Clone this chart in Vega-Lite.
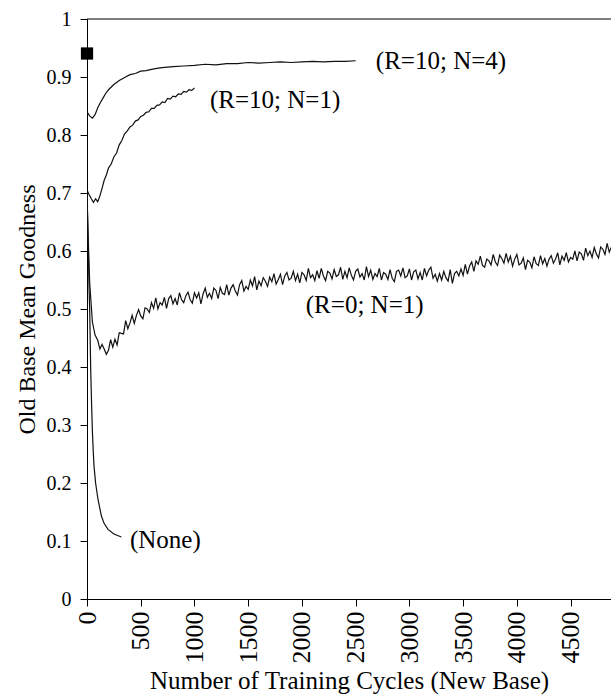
{
  "$schema": "https://vega.github.io/schema/vega-lite/v6.json",
  "width": 524,
  "height": 580,
  "autosize": "none",
  "padding": {"left": 87, "top": 19, "right": 0, "bottom": 96},
  "background": "white",
  "config": {
    "view": {"stroke": null},
    "font": "Liberation Serif",
    "axis": {"labelFont": "Liberation Serif", "titleFont": "Liberation Serif", "labelColor": "#000", "titleColor": "#000", "domainColor": "#000", "tickColor": "#000", "grid": false, "titleFontWeight": "normal"}
  },
  "datasets": {
    "curves": [
      {"s": "none", "x": 0, "y": 0.70}, {"s": "none", "x": 10, "y": 0.62}, {"s": "none", "x": 20, "y": 0.53}, {"s": "none", "x": 25, "y": 0.50}, {"s": "none", "x": 34, "y": 0.40}, {"s": "none", "x": 42, "y": 0.34}, {"s": "none", "x": 50, "y": 0.29}, {"s": "none", "x": 58, "y": 0.255}, {"s": "none", "x": 65, "y": 0.23}, {"s": "none", "x": 80, "y": 0.20}, {"s": "none", "x": 102, "y": 0.172}, {"s": "none", "x": 134, "y": 0.143}, {"s": "none", "x": 160, "y": 0.13}, {"s": "none", "x": 196, "y": 0.12}, {"s": "none", "x": 250, "y": 0.112}, {"s": "none", "x": 320, "y": 0.107},

      {"s": "r10n4", "x": 0, "y": 0.840}, {"s": "r10n4", "x": 25, "y": 0.833}, {"s": "r10n4", "x": 50, "y": 0.829}, {"s": "r10n4", "x": 75, "y": 0.835}, {"s": "r10n4", "x": 100, "y": 0.847}, {"s": "r10n4", "x": 125, "y": 0.856}, {"s": "r10n4", "x": 150, "y": 0.864}, {"s": "r10n4", "x": 175, "y": 0.872}, {"s": "r10n4", "x": 200, "y": 0.878}, {"s": "r10n4", "x": 250, "y": 0.887}, {"s": "r10n4", "x": 300, "y": 0.894}, {"s": "r10n4", "x": 350, "y": 0.899}, {"s": "r10n4", "x": 400, "y": 0.904}, {"s": "r10n4", "x": 450, "y": 0.906}, {"s": "r10n4", "x": 500, "y": 0.910}, {"s": "r10n4", "x": 550, "y": 0.911}, {"s": "r10n4", "x": 600, "y": 0.913}, {"s": "r10n4", "x": 650, "y": 0.915}, {"s": "r10n4", "x": 700, "y": 0.916}, {"s": "r10n4", "x": 800, "y": 0.918}, {"s": "r10n4", "x": 900, "y": 0.919}, {"s": "r10n4", "x": 1000, "y": 0.920}, {"s": "r10n4", "x": 1100, "y": 0.922}, {"s": "r10n4", "x": 1200, "y": 0.921}, {"s": "r10n4", "x": 1300, "y": 0.923}, {"s": "r10n4", "x": 1400, "y": 0.923}, {"s": "r10n4", "x": 1500, "y": 0.925}, {"s": "r10n4", "x": 1600, "y": 0.924}, {"s": "r10n4", "x": 1700, "y": 0.925}, {"s": "r10n4", "x": 1800, "y": 0.926}, {"s": "r10n4", "x": 1900, "y": 0.925}, {"s": "r10n4", "x": 2000, "y": 0.926}, {"s": "r10n4", "x": 2100, "y": 0.927}, {"s": "r10n4", "x": 2200, "y": 0.926}, {"s": "r10n4", "x": 2300, "y": 0.927}, {"s": "r10n4", "x": 2400, "y": 0.927}, {"s": "r10n4", "x": 2500, "y": 0.928},

      {"s": "r10n1", "x": 0, "y": 0.705}, {"s": "r10n1", "x": 20, "y": 0.697}, {"s": "r10n1", "x": 40, "y": 0.690}, {"s": "r10n1", "x": 60, "y": 0.684}, {"s": "r10n1", "x": 80, "y": 0.690}, {"s": "r10n1", "x": 100, "y": 0.685}, {"s": "r10n1", "x": 120, "y": 0.695}, {"s": "r10n1", "x": 140, "y": 0.708}, {"s": "r10n1", "x": 160, "y": 0.722}, {"s": "r10n1", "x": 180, "y": 0.731}, {"s": "r10n1", "x": 200, "y": 0.743}, {"s": "r10n1", "x": 225, "y": 0.750}, {"s": "r10n1", "x": 250, "y": 0.762}, {"s": "r10n1", "x": 275, "y": 0.769}, {"s": "r10n1", "x": 300, "y": 0.783}, {"s": "r10n1", "x": 325, "y": 0.791}, {"s": "r10n1", "x": 350, "y": 0.802}, {"s": "r10n1", "x": 375, "y": 0.807}, {"s": "r10n1", "x": 400, "y": 0.814}, {"s": "r10n1", "x": 425, "y": 0.817}, {"s": "r10n1", "x": 450, "y": 0.824}, {"s": "r10n1", "x": 475, "y": 0.826}, {"s": "r10n1", "x": 500, "y": 0.832}, {"s": "r10n1", "x": 525, "y": 0.834}, {"s": "r10n1", "x": 550, "y": 0.839}, {"s": "r10n1", "x": 575, "y": 0.840}, {"s": "r10n1", "x": 600, "y": 0.846}, {"s": "r10n1", "x": 625, "y": 0.846}, {"s": "r10n1", "x": 650, "y": 0.851}, {"s": "r10n1", "x": 675, "y": 0.852}, {"s": "r10n1", "x": 700, "y": 0.857}, {"s": "r10n1", "x": 725, "y": 0.856}, {"s": "r10n1", "x": 750, "y": 0.863}, {"s": "r10n1", "x": 775, "y": 0.862}, {"s": "r10n1", "x": 800, "y": 0.867}, {"s": "r10n1", "x": 825, "y": 0.866}, {"s": "r10n1", "x": 850, "y": 0.871}, {"s": "r10n1", "x": 875, "y": 0.870}, {"s": "r10n1", "x": 900, "y": 0.875}, {"s": "r10n1", "x": 925, "y": 0.874}, {"s": "r10n1", "x": 950, "y": 0.878}, {"s": "r10n1", "x": 975, "y": 0.877}, {"s": "r10n1", "x": 1000, "y": 0.881},

      {"s": "r0n1", "x": 0, "y": 0.700}, {"s": "r0n1", "x": 10, "y": 0.630}, {"s": "r0n1", "x": 25, "y": 0.545}, {"s": "r0n1", "x": 50, "y": 0.478}, {"s": "r0n1", "x": 75, "y": 0.455},
      {"s": "r0n1", "x": 100, "y": 0.446}, {"s": "r0n1", "x": 120, "y": 0.431}, {"s": "r0n1", "x": 140, "y": 0.439}, {"s": "r0n1", "x": 160, "y": 0.431}, {"s": "r0n1", "x": 180, "y": 0.422}, {"s": "r0n1", "x": 200, "y": 0.429}, {"s": "r0n1", "x": 220, "y": 0.447}, {"s": "r0n1", "x": 240, "y": 0.434}, {"s": "r0n1", "x": 260, "y": 0.448}, {"s": "r0n1", "x": 280, "y": 0.438}, {"s": "r0n1", "x": 300, "y": 0.459}, {"s": "r0n1", "x": 320, "y": 0.458}, {"s": "r0n1", "x": 340, "y": 0.457}, {"s": "r0n1", "x": 360, "y": 0.480}, {"s": "r0n1", "x": 380, "y": 0.466}, {"s": "r0n1", "x": 400, "y": 0.476}, {"s": "r0n1", "x": 420, "y": 0.489}, {"s": "r0n1", "x": 440, "y": 0.475}, {"s": "r0n1", "x": 460, "y": 0.489}, {"s": "r0n1", "x": 480, "y": 0.499}, {"s": "r0n1", "x": 500, "y": 0.488},
      {"s": "r0n1", "x": 520, "y": 0.483}, {"s": "r0n1", "x": 540, "y": 0.502}, {"s": "r0n1", "x": 560, "y": 0.500}, {"s": "r0n1", "x": 580, "y": 0.494}, {"s": "r0n1", "x": 600, "y": 0.511}, {"s": "r0n1", "x": 620, "y": 0.501}, {"s": "r0n1", "x": 640, "y": 0.519}, {"s": "r0n1", "x": 660, "y": 0.500}, {"s": "r0n1", "x": 680, "y": 0.511}, {"s": "r0n1", "x": 700, "y": 0.507}, {"s": "r0n1", "x": 720, "y": 0.520}, {"s": "r0n1", "x": 740, "y": 0.501}, {"s": "r0n1", "x": 760, "y": 0.518}, {"s": "r0n1", "x": 780, "y": 0.523}, {"s": "r0n1", "x": 800, "y": 0.509}, {"s": "r0n1", "x": 820, "y": 0.518}, {"s": "r0n1", "x": 840, "y": 0.507}, {"s": "r0n1", "x": 860, "y": 0.528}, {"s": "r0n1", "x": 880, "y": 0.516}, {"s": "r0n1", "x": 900, "y": 0.511}, {"s": "r0n1", "x": 920, "y": 0.523}, {"s": "r0n1", "x": 940, "y": 0.529}, {"s": "r0n1", "x": 960, "y": 0.516}, {"s": "r0n1", "x": 980, "y": 0.510}, {"s": "r0n1", "x": 1000, "y": 0.528},
      {"s": "r0n1", "x": 1020, "y": 0.519}, {"s": "r0n1", "x": 1040, "y": 0.528}, {"s": "r0n1", "x": 1060, "y": 0.509}, {"s": "r0n1", "x": 1080, "y": 0.526}, {"s": "r0n1", "x": 1100, "y": 0.536}, {"s": "r0n1", "x": 1120, "y": 0.520}, {"s": "r0n1", "x": 1140, "y": 0.527}, {"s": "r0n1", "x": 1160, "y": 0.518}, {"s": "r0n1", "x": 1180, "y": 0.536}, {"s": "r0n1", "x": 1200, "y": 0.532}, {"s": "r0n1", "x": 1220, "y": 0.518}, {"s": "r0n1", "x": 1240, "y": 0.537}, {"s": "r0n1", "x": 1260, "y": 0.527}, {"s": "r0n1", "x": 1280, "y": 0.525}, {"s": "r0n1", "x": 1300, "y": 0.542}, {"s": "r0n1", "x": 1320, "y": 0.524}, {"s": "r0n1", "x": 1340, "y": 0.536}, {"s": "r0n1", "x": 1360, "y": 0.542}, {"s": "r0n1", "x": 1380, "y": 0.531}, {"s": "r0n1", "x": 1400, "y": 0.524}, {"s": "r0n1", "x": 1420, "y": 0.542}, {"s": "r0n1", "x": 1440, "y": 0.549}, {"s": "r0n1", "x": 1460, "y": 0.531}, {"s": "r0n1", "x": 1480, "y": 0.539}, {"s": "r0n1", "x": 1500, "y": 0.534},
      {"s": "r0n1", "x": 1520, "y": 0.550}, {"s": "r0n1", "x": 1540, "y": 0.540}, {"s": "r0n1", "x": 1560, "y": 0.556}, {"s": "r0n1", "x": 1580, "y": 0.533}, {"s": "r0n1", "x": 1600, "y": 0.548}, {"s": "r0n1", "x": 1620, "y": 0.540}, {"s": "r0n1", "x": 1640, "y": 0.554}, {"s": "r0n1", "x": 1660, "y": 0.548}, {"s": "r0n1", "x": 1680, "y": 0.539}, {"s": "r0n1", "x": 1700, "y": 0.555}, {"s": "r0n1", "x": 1720, "y": 0.547}, {"s": "r0n1", "x": 1740, "y": 0.561}, {"s": "r0n1", "x": 1760, "y": 0.543}, {"s": "r0n1", "x": 1780, "y": 0.551}, {"s": "r0n1", "x": 1800, "y": 0.560}, {"s": "r0n1", "x": 1820, "y": 0.542}, {"s": "r0n1", "x": 1840, "y": 0.557}, {"s": "r0n1", "x": 1860, "y": 0.563}, {"s": "r0n1", "x": 1880, "y": 0.550}, {"s": "r0n1", "x": 1900, "y": 0.553}, {"s": "r0n1", "x": 1920, "y": 0.565}, {"s": "r0n1", "x": 1940, "y": 0.549}, {"s": "r0n1", "x": 1960, "y": 0.560}, {"s": "r0n1", "x": 1980, "y": 0.545}, {"s": "r0n1", "x": 2000, "y": 0.563},
      {"s": "r0n1", "x": 2020, "y": 0.559}, {"s": "r0n1", "x": 2040, "y": 0.549}, {"s": "r0n1", "x": 2060, "y": 0.570}, {"s": "r0n1", "x": 2080, "y": 0.554}, {"s": "r0n1", "x": 2100, "y": 0.559}, {"s": "r0n1", "x": 2120, "y": 0.549}, {"s": "r0n1", "x": 2140, "y": 0.566}, {"s": "r0n1", "x": 2160, "y": 0.553}, {"s": "r0n1", "x": 2180, "y": 0.570}, {"s": "r0n1", "x": 2200, "y": 0.557}, {"s": "r0n1", "x": 2220, "y": 0.549}, {"s": "r0n1", "x": 2240, "y": 0.565}, {"s": "r0n1", "x": 2260, "y": 0.562}, {"s": "r0n1", "x": 2280, "y": 0.552}, {"s": "r0n1", "x": 2300, "y": 0.568}, {"s": "r0n1", "x": 2320, "y": 0.556}, {"s": "r0n1", "x": 2340, "y": 0.559}, {"s": "r0n1", "x": 2360, "y": 0.572}, {"s": "r0n1", "x": 2380, "y": 0.551}, {"s": "r0n1", "x": 2400, "y": 0.565}, {"s": "r0n1", "x": 2420, "y": 0.554}, {"s": "r0n1", "x": 2440, "y": 0.571}, {"s": "r0n1", "x": 2460, "y": 0.558}, {"s": "r0n1", "x": 2480, "y": 0.550}, {"s": "r0n1", "x": 2500, "y": 0.565},
      {"s": "r0n1", "x": 2520, "y": 0.569}, {"s": "r0n1", "x": 2540, "y": 0.555}, {"s": "r0n1", "x": 2560, "y": 0.561}, {"s": "r0n1", "x": 2580, "y": 0.550}, {"s": "r0n1", "x": 2600, "y": 0.573}, {"s": "r0n1", "x": 2620, "y": 0.556}, {"s": "r0n1", "x": 2640, "y": 0.567}, {"s": "r0n1", "x": 2660, "y": 0.551}, {"s": "r0n1", "x": 2680, "y": 0.561}, {"s": "r0n1", "x": 2700, "y": 0.556}, {"s": "r0n1", "x": 2720, "y": 0.570}, {"s": "r0n1", "x": 2740, "y": 0.550}, {"s": "r0n1", "x": 2760, "y": 0.563}, {"s": "r0n1", "x": 2780, "y": 0.560}, {"s": "r0n1", "x": 2800, "y": 0.551}, {"s": "r0n1", "x": 2820, "y": 0.568}, {"s": "r0n1", "x": 2840, "y": 0.553}, {"s": "r0n1", "x": 2860, "y": 0.547}, {"s": "r0n1", "x": 2880, "y": 0.565}, {"s": "r0n1", "x": 2900, "y": 0.567}, {"s": "r0n1", "x": 2920, "y": 0.557}, {"s": "r0n1", "x": 2940, "y": 0.571}, {"s": "r0n1", "x": 2960, "y": 0.554}, {"s": "r0n1", "x": 2980, "y": 0.557}, {"s": "r0n1", "x": 3000, "y": 0.569},
      {"s": "r0n1", "x": 3020, "y": 0.550}, {"s": "r0n1", "x": 3040, "y": 0.564}, {"s": "r0n1", "x": 3060, "y": 0.567}, {"s": "r0n1", "x": 3080, "y": 0.552}, {"s": "r0n1", "x": 3100, "y": 0.563}, {"s": "r0n1", "x": 3120, "y": 0.550}, {"s": "r0n1", "x": 3140, "y": 0.570}, {"s": "r0n1", "x": 3160, "y": 0.557}, {"s": "r0n1", "x": 3180, "y": 0.567}, {"s": "r0n1", "x": 3200, "y": 0.572}, {"s": "r0n1", "x": 3220, "y": 0.553}, {"s": "r0n1", "x": 3240, "y": 0.560}, {"s": "r0n1", "x": 3260, "y": 0.548}, {"s": "r0n1", "x": 3280, "y": 0.561}, {"s": "r0n1", "x": 3300, "y": 0.550}, {"s": "r0n1", "x": 3320, "y": 0.565}, {"s": "r0n1", "x": 3340, "y": 0.554}, {"s": "r0n1", "x": 3360, "y": 0.548}, {"s": "r0n1", "x": 3380, "y": 0.568}, {"s": "r0n1", "x": 3400, "y": 0.544}, {"s": "r0n1", "x": 3420, "y": 0.561}, {"s": "r0n1", "x": 3440, "y": 0.565}, {"s": "r0n1", "x": 3460, "y": 0.557}, {"s": "r0n1", "x": 3480, "y": 0.569}, {"s": "r0n1", "x": 3500, "y": 0.558},
      {"s": "r0n1", "x": 3520, "y": 0.577}, {"s": "r0n1", "x": 3540, "y": 0.560}, {"s": "r0n1", "x": 3560, "y": 0.574}, {"s": "r0n1", "x": 3580, "y": 0.581}, {"s": "r0n1", "x": 3600, "y": 0.565}, {"s": "r0n1", "x": 3620, "y": 0.583}, {"s": "r0n1", "x": 3640, "y": 0.577}, {"s": "r0n1", "x": 3660, "y": 0.591}, {"s": "r0n1", "x": 3680, "y": 0.575}, {"s": "r0n1", "x": 3700, "y": 0.572}, {"s": "r0n1", "x": 3720, "y": 0.586}, {"s": "r0n1", "x": 3740, "y": 0.583}, {"s": "r0n1", "x": 3760, "y": 0.576}, {"s": "r0n1", "x": 3780, "y": 0.594}, {"s": "r0n1", "x": 3800, "y": 0.581}, {"s": "r0n1", "x": 3820, "y": 0.575}, {"s": "r0n1", "x": 3840, "y": 0.593}, {"s": "r0n1", "x": 3860, "y": 0.587}, {"s": "r0n1", "x": 3880, "y": 0.579}, {"s": "r0n1", "x": 3900, "y": 0.596}, {"s": "r0n1", "x": 3920, "y": 0.581}, {"s": "r0n1", "x": 3940, "y": 0.591}, {"s": "r0n1", "x": 3960, "y": 0.574}, {"s": "r0n1", "x": 3980, "y": 0.586}, {"s": "r0n1", "x": 4000, "y": 0.594},
      {"s": "r0n1", "x": 4020, "y": 0.576}, {"s": "r0n1", "x": 4040, "y": 0.579}, {"s": "r0n1", "x": 4060, "y": 0.588}, {"s": "r0n1", "x": 4080, "y": 0.568}, {"s": "r0n1", "x": 4100, "y": 0.584}, {"s": "r0n1", "x": 4120, "y": 0.581}, {"s": "r0n1", "x": 4140, "y": 0.571}, {"s": "r0n1", "x": 4160, "y": 0.590}, {"s": "r0n1", "x": 4180, "y": 0.578}, {"s": "r0n1", "x": 4200, "y": 0.575}, {"s": "r0n1", "x": 4220, "y": 0.592}, {"s": "r0n1", "x": 4240, "y": 0.578}, {"s": "r0n1", "x": 4260, "y": 0.587}, {"s": "r0n1", "x": 4280, "y": 0.574}, {"s": "r0n1", "x": 4300, "y": 0.586}, {"s": "r0n1", "x": 4320, "y": 0.592}, {"s": "r0n1", "x": 4340, "y": 0.579}, {"s": "r0n1", "x": 4360, "y": 0.586}, {"s": "r0n1", "x": 4380, "y": 0.597}, {"s": "r0n1", "x": 4400, "y": 0.576}, {"s": "r0n1", "x": 4420, "y": 0.591}, {"s": "r0n1", "x": 4440, "y": 0.584}, {"s": "r0n1", "x": 4460, "y": 0.597}, {"s": "r0n1", "x": 4480, "y": 0.581}, {"s": "r0n1", "x": 4500, "y": 0.589},
      {"s": "r0n1", "x": 4520, "y": 0.586}, {"s": "r0n1", "x": 4540, "y": 0.600}, {"s": "r0n1", "x": 4560, "y": 0.583}, {"s": "r0n1", "x": 4580, "y": 0.598}, {"s": "r0n1", "x": 4600, "y": 0.595}, {"s": "r0n1", "x": 4620, "y": 0.584}, {"s": "r0n1", "x": 4640, "y": 0.605}, {"s": "r0n1", "x": 4660, "y": 0.592}, {"s": "r0n1", "x": 4680, "y": 0.600}, {"s": "r0n1", "x": 4700, "y": 0.589}, {"s": "r0n1", "x": 4720, "y": 0.606}, {"s": "r0n1", "x": 4740, "y": 0.595}, {"s": "r0n1", "x": 4760, "y": 0.588}, {"s": "r0n1", "x": 4780, "y": 0.607}, {"s": "r0n1", "x": 4800, "y": 0.603}, {"s": "r0n1", "x": 4820, "y": 0.594}, {"s": "r0n1", "x": 4840, "y": 0.613}, {"s": "r0n1", "x": 4860, "y": 0.598}, {"s": "r0n1", "x": 4880, "y": 0.607}
    ],
    "labels": [
      {"x": 2688, "y": 0.927, "t": "(R=10; N=4)"},
      {"x": 1144, "y": 0.861, "t": "(R=10; N=1)"},
      {"x": 2036, "y": 0.507, "t": "(R=0; N=1)"},
      {"x": 400, "y": 0.101, "t": "(None)"}
    ],
    "marker": [{"x": 0, "y": 0.9405}]
  },
  "layer": [
    {
      "data": {"name": "curves"},
      "mark": {"type": "line", "color": "#111", "strokeWidth": 1.2, "clip": true},
      "encoding": {
        "x": {"field": "x", "type": "quantitative", "scale": {"domain": [0, 4876], "nice": false},
          "axis": {"title": "Number of Training Cycles (New Base)", "values": [0, 500, 1000, 1500, 2000, 2500, 3000, 3500, 4000, 4500], "labelAngle": -90, "labelFontSize": 26, "tickSize": 7, "labelPadding": 5, "titleFontSize": 25, "titleY": 89, "titleBaseline": "alphabetic", "labelFlush": false, "format": "d"}},
        "y": {"field": "y", "type": "quantitative", "scale": {"domain": [0, 1], "nice": false},
          "axis": {"title": "Old Base Mean Goodness", "values": [0, 0.1, 0.2, 0.3, 0.4, 0.5, 0.6, 0.7, 0.8, 0.9, 1], "labelFontSize": 20, "tickSize": 7, "labelPadding": 9, "titleFontSize": 24, "titlePadding": 7, "labelFlush": false, "labelExpr": "datum.value == 1 ? '1' : datum.value == 0 ? '0' : format(datum.value, '.1f')"}},
        "detail": {"field": "s"}
      }
    },
    {
      "data": {"values": [{"v": 1}]},
      "mark": {"type": "rule", "color": "#000", "strokeWidth": 1.2},
      "encoding": {"y": {"datum": 1, "type": "quantitative"}}
    },
    {
      "data": {"name": "labels"},
      "mark": {"type": "text", "align": "left", "baseline": "middle", "fontSize": 25, "font": "Liberation Serif", "color": "#000"},
      "encoding": {
        "x": {"field": "x", "type": "quantitative"},
        "y": {"field": "y", "type": "quantitative"},
        "text": {"field": "t"}
      }
    },
    {
      "data": {"name": "marker"},
      "mark": {"type": "square", "filled": true, "color": "#000", "size": 150, "opacity": 1, "clip": false},
      "encoding": {
        "x": {"field": "x", "type": "quantitative"},
        "y": {"field": "y", "type": "quantitative"}
      }
    }
  ]
}
